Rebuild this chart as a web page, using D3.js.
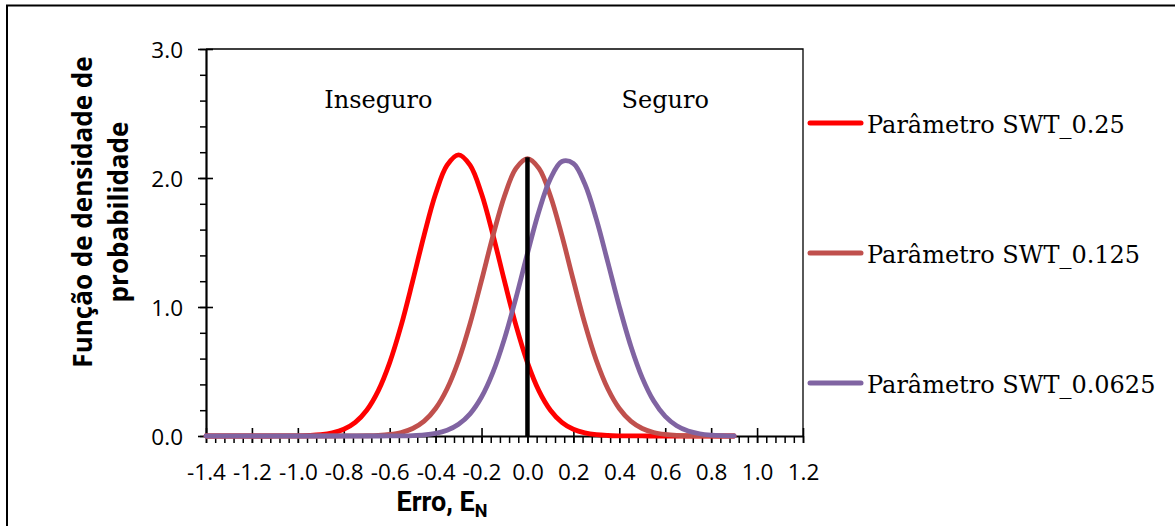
<!DOCTYPE html>
<html>
<head>
<meta charset="utf-8">
<script src="https://cdn.jsdelivr.net/npm/d3@7"></script>
<style>
  html, body { margin: 0; padding: 0; background: #ffffff; }
  svg { display: block; }
</style>
</head>
<body>
<div id="chart"></div>
<script>
// ---------------- DATA ----------------
const xValues = [-1.40,-1.35,-1.30,-1.25,-1.20,-1.15,-1.10,-1.05,-1.00,-0.95,-0.90,-0.85,-0.80,-0.75,-0.70,-0.65,-0.60,-0.55,-0.50,-0.45,-0.40,-0.35,-0.30,-0.25,-0.20,-0.15,-0.10,-0.05,0.00,0.05,0.10,0.15,0.20,0.25,0.30,0.35,0.40,0.45,0.50,0.55,0.60,0.65,0.70,0.75,0.80,0.85,0.90];

const swt025 = [0,0,0,0,0,0,0.0002,0.0005,0.0015,0.004,0.010,0.024,0.052,0.106,0.200,0.350,0.569,0.857,1.200,1.558,1.878,2.100,2.180,2.100,1.878,1.558,1.200,0.857,0.569,0.350,0.200,0.106,0.052,0.024,0.010,0.004,0.0015,0.0005,0.0002,0,0,0,0,0,0,0,0];

const swt0125 = [0,0,0,0,0,0,0,0,0,0,0,0.0001,0.0002,0.0006,0.0018,0.0048,0.012,0.027,0.058,0.115,0.213,0.366,0.585,0.871,1.206,1.553,1.861,2.074,2.150,2.074,1.861,1.553,1.206,0.871,0.585,0.366,0.213,0.115,0.058,0.027,0.012,0.0048,0.0018,0.0006,0.0002,0.0001,0];

const swt00625 = [0,0,0,0,0,0,0,0,0,0,0,0,0,0.00001,0.00004,0.00014,0.0004,0.0013,0.0035,0.0088,0.0205,0.0448,0.0909,0.172,0.302,0.495,0.755,1.071,1.416,1.742,1.995,2.128,2.113,1.953,1.681,1.347,1.005,0.698,0.451,0.271,0.152,0.0795,0.0386,0.0174,0.0073,0.0029,0.0010];

const seriesNames = ["Parâmetro SWT_0.25", "Parâmetro SWT_0.125", "Parâmetro SWT_0.0625"];
const seriesColors = ["#FF0000", "#C0504D", "#8064A2"];

// vertical reference line at E_N = 0
const refLineX = [0, 0];
const refLineY = [0, 2.16];

const xTickValues = [-1.4,-1.2,-1.0,-0.8,-0.6,-0.4,-0.2,0.0,0.2,0.4,0.6,0.8,1.0,1.2];
const yTickValues = [0,1,2,3];
const annotations = ["Inseguro", "Seguro"];
const annotationX = [-0.885, 0.41];

// ---------------- LAYOUT ----------------
const W = 1175, H = 526;
const plot = { left: 206, right: 803, top: 49, bottom: 436 };

const svg = d3.select("#chart").append("svg")
  .attr("width", W).attr("height", H);

svg.append("rect").attr("width", W).attr("height", H).attr("fill", "#fff");
// outer chart border
svg.append("rect")
  .attr("x", 7).attr("y", 5.5).attr("width", W + 20).attr("height", H + 20)
  .attr("fill", "none").attr("stroke", "#000").attr("stroke-width", 2);

const x = d3.scaleLinear().domain([-1.4, 1.2]).range([plot.left, plot.right]);
const y = d3.scaleLinear().domain([0, 3]).range([plot.bottom, plot.top]);

// plot top/right border
svg.append("path")
  .attr("d", `M${plot.left},${plot.top}H${plot.right}V${plot.bottom}`)
  .attr("fill", "none").attr("stroke", "#000").attr("stroke-width", 1.3);

const tickFont = "'Open Sans', 'DejaVu Sans', sans-serif";
const tickSize = 22.5;

// minor x ticks
const xMinor = d3.range(-1.4, 1.2001, 0.04);
svg.append("g").attr("transform", `translate(0,${plot.bottom})`)
  .call(d3.axisBottom(x).tickValues(xMinor).tickSize(7).tickFormat(""))
  .call(g => g.select(".domain").remove())
  .call(g => g.selectAll("line").attr("stroke-width", 1.5));

// minor y ticks
const yMinor = d3.range(0, 3.0001, 0.2);
svg.append("g").attr("transform", `translate(${plot.left},0)`)
  .call(d3.axisLeft(y).tickValues(yMinor).tickSize(6).tickFormat(""))
  .call(g => g.select(".domain").remove())
  .call(g => g.selectAll("line").attr("stroke-width", 1.5));

// major x axis
svg.append("g").attr("transform", `translate(0,${plot.bottom})`)
  .call(d3.axisBottom(x).tickValues(xTickValues).tickSizeOuter(0).tickSizeInner(7)
        .tickFormat(d => d.toFixed(1)))
  .call(g => g.select(".domain").attr("stroke-width", 2.2))
  .call(g => g.selectAll(".tick line").attr("y1", -8).attr("stroke-width", 1.6))
  .call(g => g.selectAll(".tick text")
        .attr("y", 44).attr("dy", 0)
        .attr("font-family", tickFont).attr("font-size", tickSize).attr("fill", "#000"));

// major y axis
svg.append("g").attr("transform", `translate(${plot.left},0)`)
  .call(d3.axisLeft(y).tickValues(yTickValues).tickSizeOuter(0).tickSizeInner(8)
        .tickFormat(d => d.toFixed(1)))
  .call(g => g.select(".domain").attr("stroke-width", 2.2))
  .call(g => g.selectAll(".tick line").attr("x1", 7).attr("stroke-width", 1.6))
  .call(g => g.selectAll(".tick text")
        .attr("x", -23).attr("dy", "0.36em")
        .attr("font-family", tickFont).attr("font-size", tickSize).attr("fill", "#000"));

// ---------------- SERIES ----------------
const seriesData = [swt025, swt0125, swt00625];
const line = d3.line()
  .x(d => x(d[0])).y(d => y(d[1]))
  .curve(d3.curveCatmullRom.alpha(0.5));

seriesData.forEach((vals, i) => {
  const pts = xValues.map((xv, j) => [xv, vals[j]]);
  svg.append("path").datum(pts)
    .attr("d", line)
    .attr("fill", "none")
    .attr("stroke", seriesColors[i])
    .attr("stroke-width", 4.8)
    .attr("stroke-linejoin", "round")
    .attr("stroke-linecap", "round");
});

// vertical black line at 0
svg.append("path")
  .datum(refLineX.map((xv, j) => [xv, refLineY[j]]))
  .attr("d", d3.line().x(d => x(d[0])).y(d => y(d[1])))
  .attr("stroke", "#000").attr("stroke-width", 4.5).attr("fill", "none");

// annotations
const serifFont = "'DejaVu Serif', 'Liberation Serif', serif";
annotations.forEach((t, i) => {
  svg.append("text")
    .attr("x", x(annotationX[i])).attr("y", 108)
    .attr("font-family", serifFont).attr("font-size", 24)
    .attr("fill", "#000").text(t);
});

// ---------------- LEGEND ----------------
const legendY = [123, 253, 383];
seriesNames.forEach((name, i) => {
  svg.append("line")
    .attr("x1", 810).attr("x2", 861)
    .attr("y1", legendY[i]).attr("y2", legendY[i])
    .attr("stroke", seriesColors[i]).attr("stroke-width", 5)
    .attr("stroke-linecap", "round");
  svg.append("text")
    .attr("x", 867).attr("y", legendY[i] + 9.5)
    .attr("font-family", serifFont).attr("font-size", 24)
    .attr("fill", "#000").text(name);
});

// ---------------- AXIS TITLES ----------------
const xt = svg.append("text")
  .attr("x", 442).attr("y", 511)
  .attr("text-anchor", "middle")
  .attr("font-family", "Roboto, 'Open Sans', sans-serif").attr("font-size", 27).attr("font-weight", "bold")
  .attr("fill", "#000");
xt.append("tspan").text("Erro, E");
xt.append("tspan").attr("font-size", 18).attr("dy", 6).text("N");

const titleFont = "'Open Sans', 'DejaVu Sans', sans-serif";
const yTitleLines = ["Função de densidade de", "probabilidade"];
const yTitleX = [92, 128];
yTitleLines.forEach((t, i) => {
  svg.append("text")
    .attr("transform", `translate(${yTitleX[i]},212) rotate(-90)`)
    .attr("text-anchor", "middle")
    .attr("font-family", titleFont).attr("font-size", 26).attr("font-weight", "bold")
    .attr("fill", "#000").text(t);
});
</script>
</body>
</html>
